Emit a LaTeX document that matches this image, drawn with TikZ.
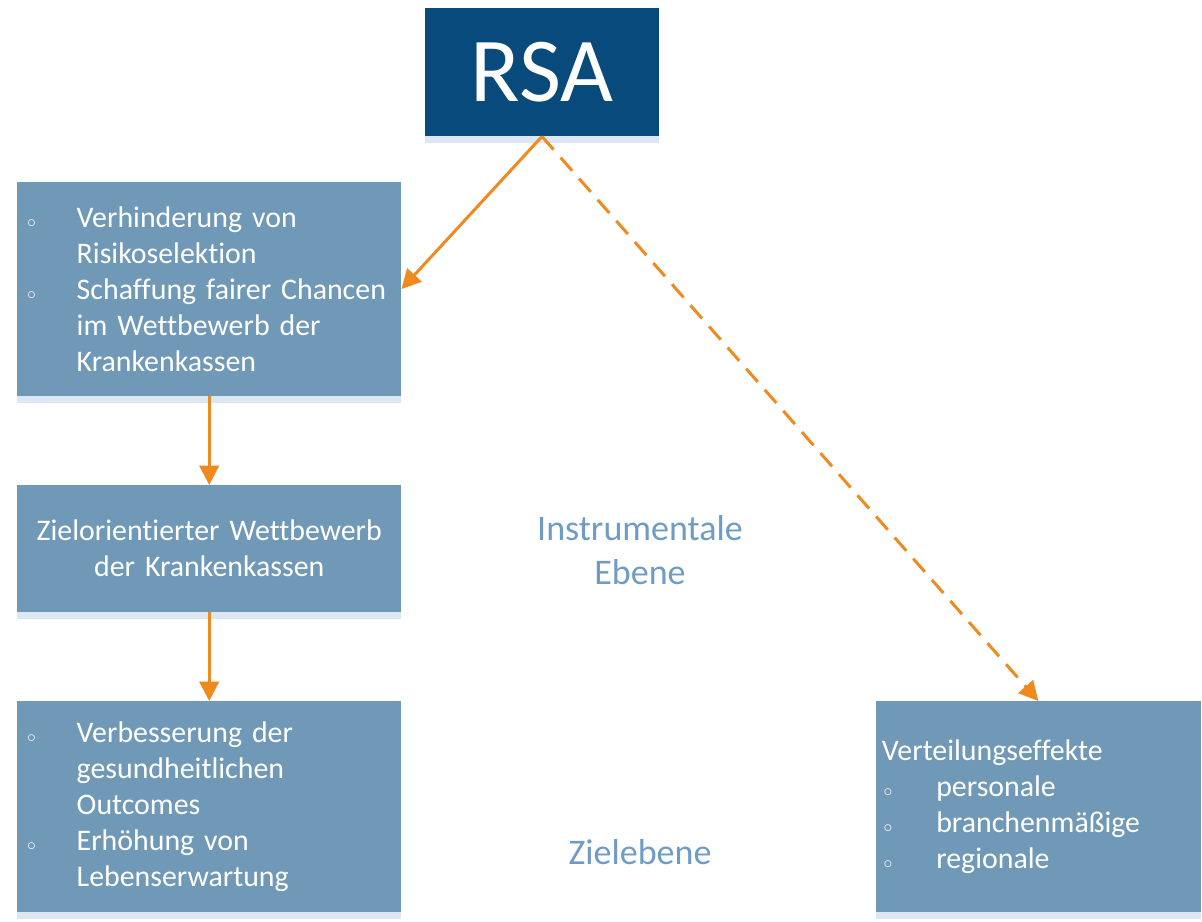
\documentclass[tikz,border=0pt]{standalone}
\usepackage{fontspec}
\setmainfont{Carlito}[Ligatures=NoCommon]
\usetikzlibrary{arrows.meta,calc}

\definecolor{rsablue}{HTML}{084A7C}
\definecolor{boxblue}{HTML}{7099B7}
\definecolor{stripblue}{HTML}{DCE7F3}
\definecolor{arroworange}{HTML}{EE8A1E}
\definecolor{labelblue}{HTML}{6F9CC6}

\newcommand{\blt}{\makebox[28.3pt][l]{\fontsize{10}{10}\selectfont$\circ$}}
\newcommand{\ind}{\hspace*{28.3pt}}

\begin{document}
\begin{tikzpicture}[
  x=0.02cm, y=-0.02cm,
  top/.style={fill=rsablue,text=white,outer sep=0pt,inner sep=0pt,
    minimum width=133.2pt,minimum height=73.1pt,
    font=\fontsize{52}{52}\selectfont}, % dark head box
  goal/.style={fill=boxblue,text=white,outer sep=0pt,inner ysep=0pt,
    inner xsep=5.7pt,text width=207.4pt,minimum width=218.8pt,align=left,
    font=\fontsize{17}{20.4}\selectfont},
  side/.style={goal,inner xsep=3.4pt,text width=178pt,minimum width=184.8pt},
  strip/.style={fill=stripblue},
  level/.style={text=labelblue,align=center,font=\fontsize{20.5}{25}\selectfont},
  link/.style={draw=arroworange,line width=1.7pt,-{Triangle[length=11pt,width=11pt]}}
]

  \useasboundingbox (0,0) rectangle (1202,921);

  \node[top,anchor=north west] (rsa) at (425,8) {RSA};

  \node[goal,anchor=north west,minimum height=121.9pt] (risk) at (17,182)
    {\blt Verhinderung von\\
     \ind Risikoselektion\\
     \blt Schaffung fairer Chancen\\
     \ind im Wettbewerb der\\
     \ind Krankenkassen};

  \node[goal,anchor=north west,minimum height=72pt,align=center] (wettb) at (17,485)
    {Zielorientierter Wettbewerb\\der Krankenkassen};

  \node[goal,anchor=north west,minimum height=120.2pt] (ziel) at (17,701)
    {\blt Verbesserung der\\
     \ind gesundheitlichen\\
     \ind Outcomes\\
     \blt Erhöhung von\\
     \ind Lebenserwartung};

  \node[side,anchor=north west,minimum height=120.2pt] (vert) at (876,701)
    {Verteilungseffekte\\
     \hspace*{1pt}\makebox[29.9pt][l]{\fontsize{10}{10}\selectfont$\circ$}personale\\
     \hspace*{1pt}\makebox[29.9pt][l]{\fontsize{10}{10}\selectfont$\circ$}branchenmäßige\\
     \hspace*{1pt}\makebox[29.9pt][l]{\fontsize{10}{10}\selectfont$\circ$}regionale};

  % light strips below the boxes
  \foreach \b in {rsa,risk,wettb,ziel,vert}
    \fill[strip] (\b.south west) rectangle ($(\b.south east)+(0,7)$);

  \node[level] (instr) at (640,550) {Instrumentale\\Ebene};
  \node[level] (zlev) at (640,852) {Zielebene};

  \draw[link] (rsa.south) -- (risk.east);
  \draw[link,dash pattern=on 10pt off 6pt] (rsa.south) -- (vert.north);
  \draw[link] (risk.south) -- (wettb.north);
  \draw[link] (wettb.south) -- (ziel.north);

\end{tikzpicture}
\end{document}
